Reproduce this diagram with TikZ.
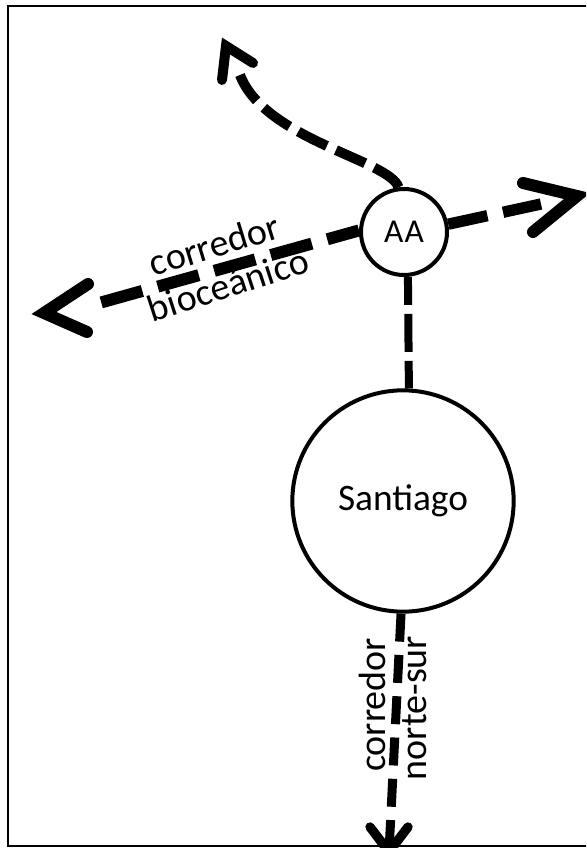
\documentclass[tikz,border=0pt]{standalone}
\usepackage{fontspec}
\setmainfont{Carlito}
\begin{document}
\begin{tikzpicture}[x=0.75pt,y=-0.75pt,
  city/.style={circle,draw,line width=3pt,inner sep=0pt},
  lbl/.style={font=\fontsize{28.5}{30}\selectfont,inner sep=0pt,anchor=base},
  dashL/.style={line width=9pt,dash pattern=on 32pt off 12pt,dash phase=7.25pt},
  dashR/.style={line width=8.5pt,dash pattern=on 30pt off 12pt},
  dashU/.style={line width=7.5pt,dash pattern=on 24pt off 7.5pt},
  dashV/.style={line width=6pt,dash pattern=on 28.5pt off 6.75pt,dash phase=7.5pt},
  dashD/.style={line width=6.75pt,dash pattern=on 21pt off 10pt},
  head/.style={line width=9pt,line cap=round,line join=miter},
  frame/.style={line width=1.5pt}]
\useasboundingbox (0,0) rectangle (586,848);
\clip (0,0) rectangle (586,848);
% frame
\draw[frame] (600,6) -- (8,6) -- (8,846) -- (600,846);
% nodes
\node[city,minimum size=64.5pt,font=\fontsize{25}{28}\selectfont] (AA) at (404,232) {A\kern1pt A};
\node[city,minimum size=166pt,font=\fontsize{28}{30}\selectfont] (S) at (403,501) {Santiago};
% coordinates
\coordinate (stemL) at (92,305);
\coordinate (tipL) at (44,313);
\coordinate (armL1) at (88,284);
\coordinate (armL2) at (87,332);
\coordinate (stemR) at (541,204);
\coordinate (tipR) at (577,196);
\coordinate (armR1) at (523,183);
\coordinate (armR2) at (533,232);
\coordinate (endU) at (240,75);
\coordinate (tipU) at (226,46);
\coordinate (armU1) at (222,80);
\coordinate (armU2) at (253,63);
\coordinate (tipD) at (389,852);
\coordinate (armD1) at (370,827);
\coordinate (armD2) at (408,827);
% connectors
\draw[dashL] (AA.178) -- (stemL);
\draw[head] (armL1) -- (tipL) -- (armL2);
\draw[dashR] (AA.10) -- (stemR);
\draw[head] (armR1) -- (tipR) -- (armR2);
\draw[dashU] (AA.97) .. controls (390,160) and (265,140) .. (endU);
\draw[head,line width=7.5pt] (armU1) -- (tipU) -- (armU2);
\draw[dashV] (AA.-85) -- (S.87);
\draw[dashD] (S.-91) -- (tipD);
\draw[head,line width=7pt] (armD1) -- (tipD) -- (armD2);
% labels
\node[lbl,rotate=17] (l1) at (218,257) {corredor};
\node[lbl,rotate=18] (l2) at (232,297) {bioceánico};
\node[lbl,rotate=90] (l3) at (385,705) {corredor};
\node[lbl,rotate=90] (l4) at (426,708) {norte-sur};
\end{tikzpicture}
\end{document}
